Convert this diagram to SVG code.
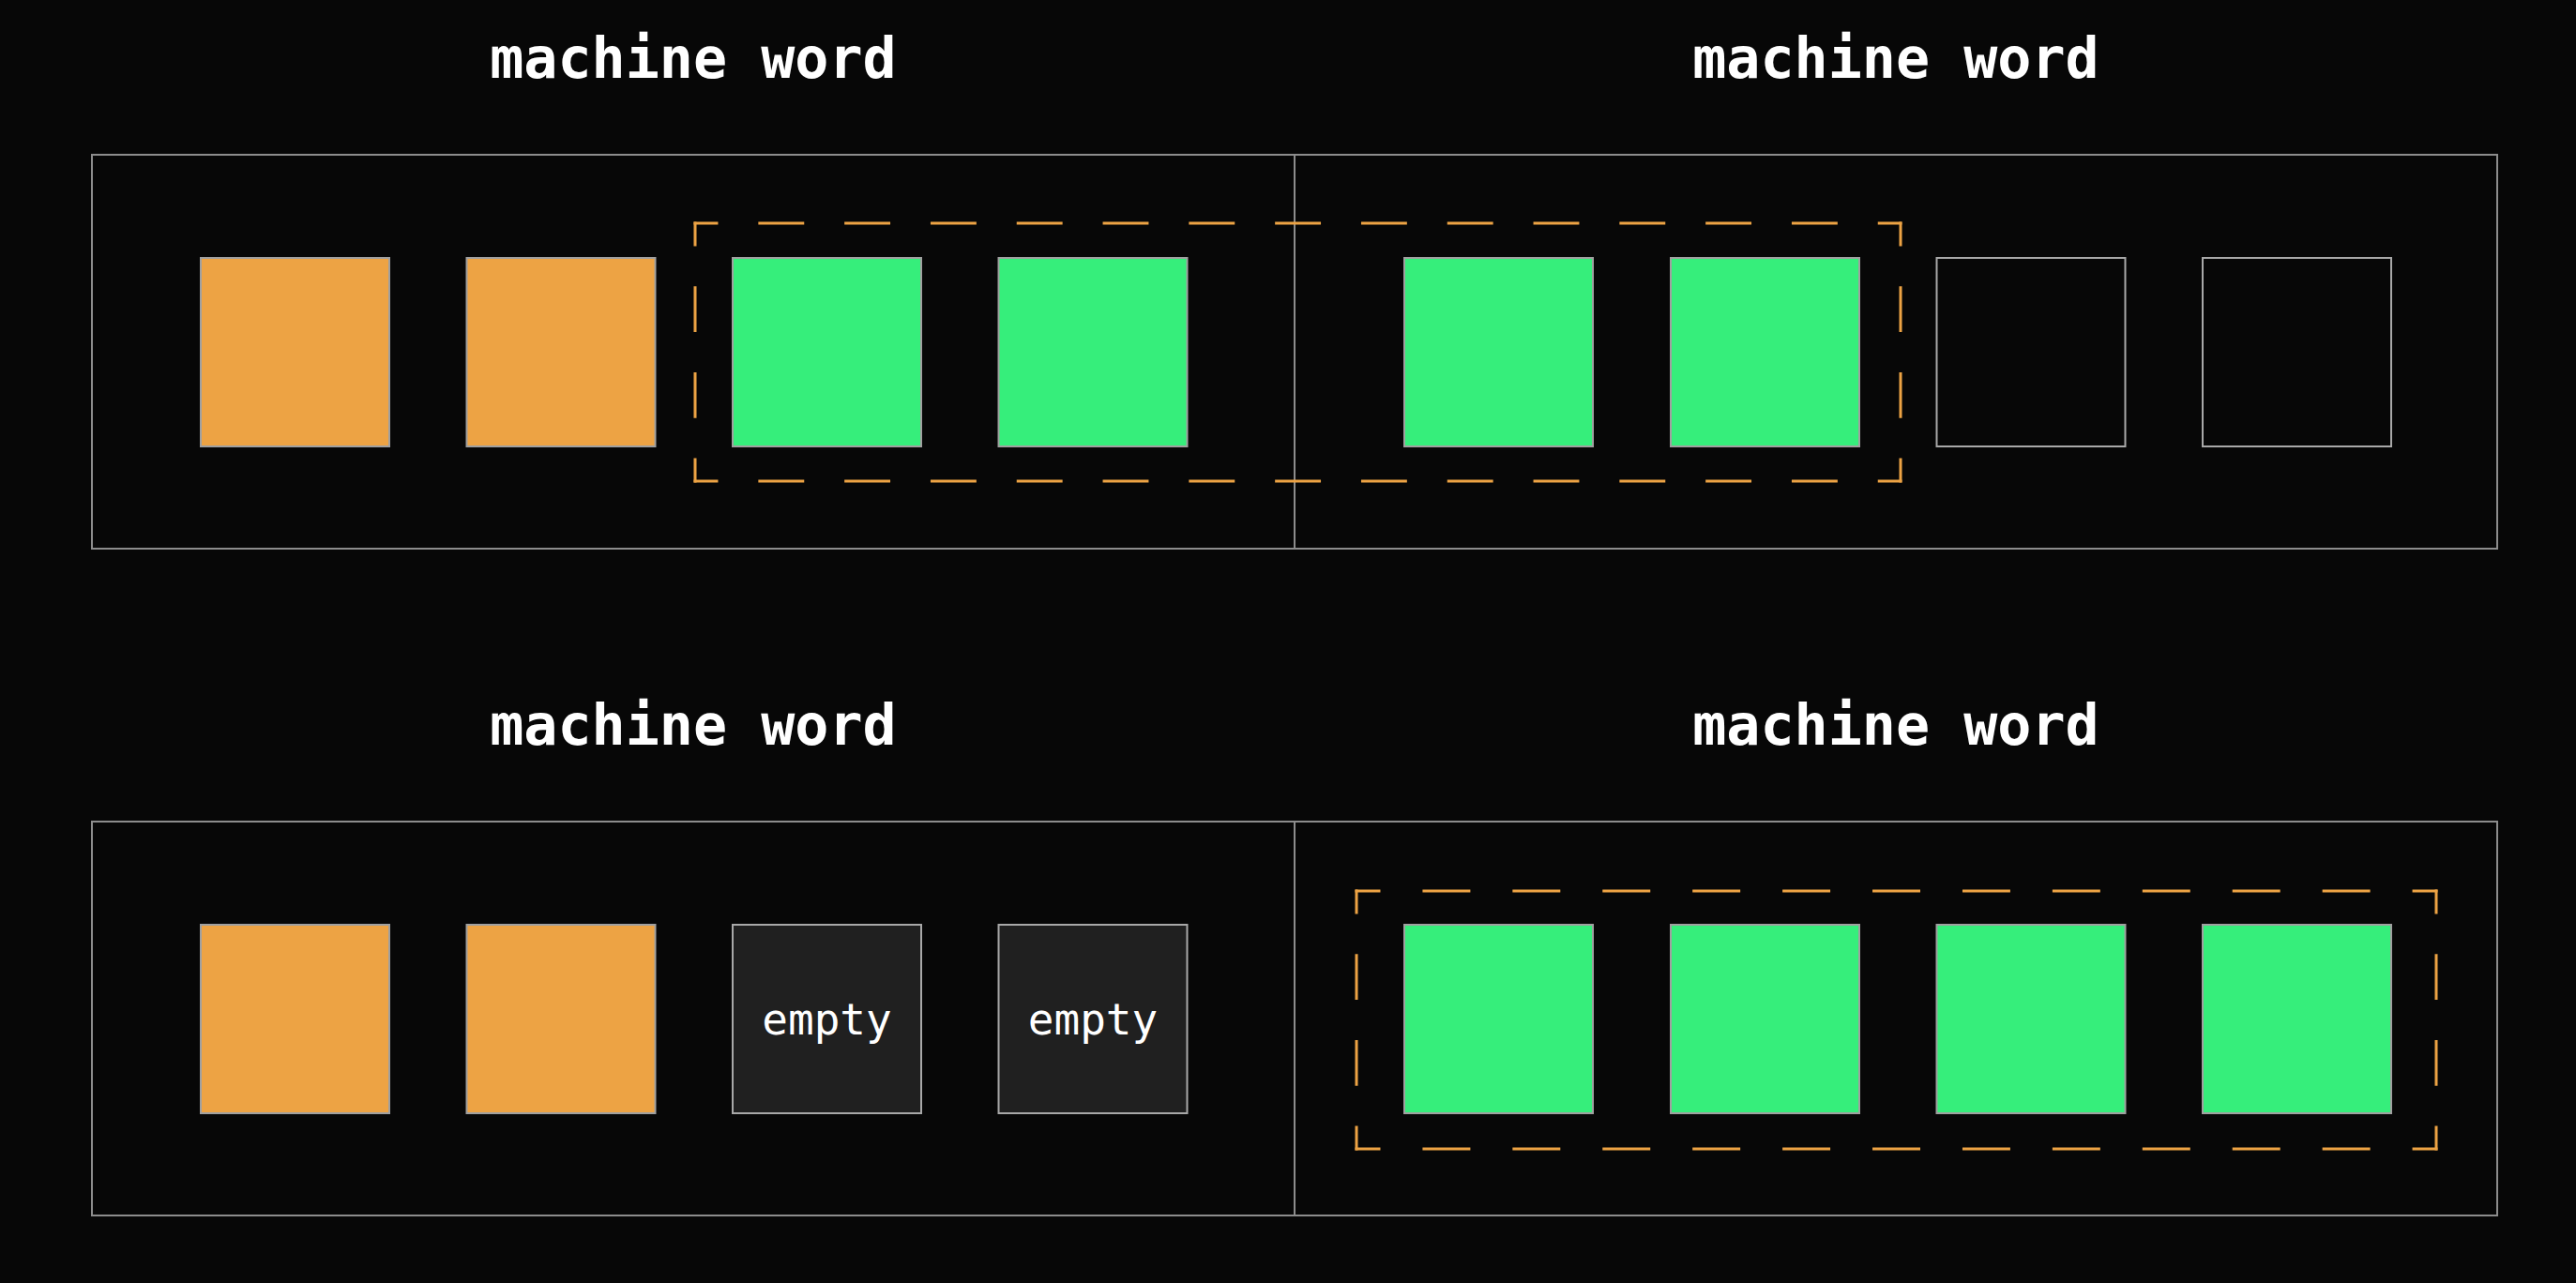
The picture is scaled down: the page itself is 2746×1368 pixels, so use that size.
<svg xmlns="http://www.w3.org/2000/svg" width="2746" height="1368" viewBox="0 0 2746 1368">
<style>
.bg{fill:#070707}
.title{font-family:"DejaVu Sans Mono","Liberation Mono",monospace;font-weight:bold;font-size:60px;fill:#ffffff;text-anchor:middle}
.lbl{font-family:"DejaVu Sans Mono","Liberation Mono",monospace;font-size:46px;fill:#ffffff;text-anchor:middle}
.word{fill:none;stroke:#8c8c8c;stroke-width:2}
.div{stroke:#8c8c8c;stroke-width:2}
.orange{fill:#EDA344;stroke:#a0a0a0;stroke-width:2}
.green{fill:#36EE7B;stroke:#a0a0a0;stroke-width:2}
.free{fill:#070707;stroke:#a8a8a8;stroke-width:2}
.empty{fill:#202020;stroke:#a8a8a8;stroke-width:2}
.dash{fill:none;stroke:#EDA344;stroke-width:3;stroke-linecap:square}
</style>
<rect class="bg" x="0" y="0" width="2746" height="1368"/>

<g id="row1">
  <g id="title-1a"><text class="title" x="739" y="83">machine word</text></g>
  <g id="title-1b"><text class="title" x="2021" y="83">machine word</text></g>
  <g id="word-1"><rect class="word" x="98" y="165" width="2564" height="420"/><line class="div" x1="1380" y1="165" x2="1380" y2="585"/></g>
  <g id="r1c1"><rect class="orange" x="214" y="275" width="201" height="201"/></g>
  <g id="r1c2"><rect class="orange" x="497.5" y="275" width="201" height="201"/></g>
  <g id="r1c3"><rect class="green" x="781" y="275" width="201" height="201"/></g>
  <g id="r1c4"><rect class="green" x="1064.5" y="275" width="201" height="201"/></g>
  <g id="r1c5"><rect class="green" x="1497" y="275" width="201" height="201"/></g>
  <g id="r1c6"><rect class="green" x="1781" y="275" width="201" height="201"/></g>
  <g id="r1c7"><rect class="free" x="2064.5" y="275" width="201" height="201"/></g>
  <g id="r1c8"><rect class="free" x="2348" y="275" width="201" height="201"/></g>
  <g id="sel-1">
    <path class="dash" d="M741 238 H2026" stroke-dasharray="45.9 45.9" stroke-dashoffset="22.95"/>
    <path class="dash" d="M741 513 H2026" stroke-dasharray="45.9 45.9" stroke-dashoffset="22.95"/>
    <path class="dash" d="M741 238 V513" stroke-dasharray="45.83 45.83" stroke-dashoffset="22.92"/>
    <path class="dash" d="M2026 238 V513" stroke-dasharray="45.83 45.83" stroke-dashoffset="22.92"/>
  </g>
</g>

<g id="row2">
  <g id="title-2a"><text class="title" x="739" y="794">machine word</text></g>
  <g id="title-2b"><text class="title" x="2021" y="794">machine word</text></g>
  <g id="word-2"><rect class="word" x="98" y="876" width="2564" height="420"/><line class="div" x1="1380" y1="876" x2="1380" y2="1296"/></g>
  <g id="r2c1"><rect class="orange" x="214" y="986" width="201" height="201"/></g>
  <g id="r2c2"><rect class="orange" x="497.5" y="986" width="201" height="201"/></g>
  <g id="r2c3"><rect class="empty" x="781" y="986" width="201" height="201"/><text class="lbl" x="881.5" y="1103">empty</text></g>
  <g id="r2c4"><rect class="empty" x="1064.5" y="986" width="201" height="201"/><text class="lbl" x="1165" y="1103">empty</text></g>
  <g id="r2c5"><rect class="green" x="1497" y="986" width="201" height="201"/></g>
  <g id="r2c6"><rect class="green" x="1781" y="986" width="201" height="201"/></g>
  <g id="r2c7"><rect class="green" x="2064.5" y="986" width="201" height="201"/></g>
  <g id="r2c8"><rect class="green" x="2348" y="986" width="201" height="201"/></g>
  <g id="sel-2">
    <path class="dash" d="M1446 950 H2597" stroke-dasharray="47.96 47.96" stroke-dashoffset="23.98"/>
    <path class="dash" d="M1446 1225 H2597" stroke-dasharray="47.96 47.96" stroke-dashoffset="23.98"/>
    <path class="dash" d="M1446 950 V1225" stroke-dasharray="45.83 45.83" stroke-dashoffset="22.92"/>
    <path class="dash" d="M2597 950 V1225" stroke-dasharray="45.83 45.83" stroke-dashoffset="22.92"/>
  </g>
</g>
<g id="connectors"/>
</svg>
